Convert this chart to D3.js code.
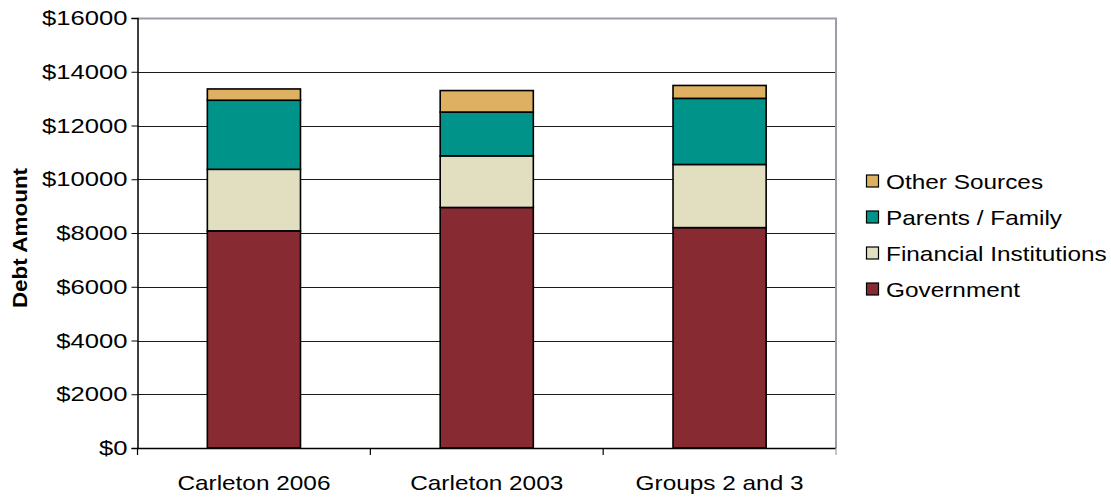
<!DOCTYPE html>
<html>
<head>
<meta charset="utf-8">
<script src="https://cdn.jsdelivr.net/npm/d3@7/dist/d3.min.js"></script>
<style>
  body { margin: 0; background: #fff; }
  text { font-family: "Liberation Sans", Arial, sans-serif; fill: #000; }
</style>
</head>
<body>
<div id="chart"></div>
<script>
// Chart data
const categories = ["Carleton 2006", "Carleton 2003", "Groups 2 and 3"];
const seriesNames = ["Government", "Financial Institutions", "Parents / Family", "Other Sources"];
const government = [8080, 8950, 8200];
const financial = [2290, 1920, 2350];
const parents = [2570, 1630, 2460];
const other = [420, 800, 480];
const yTicks = [0, 2000, 4000, 6000, 8000, 10000, 12000, 14000, 16000];
const colors = ["#882a32", "#e2dec0", "#00938a", "#ddb062"];

const width = 1111, height = 497;
const margin = {top: 18, right: 275, bottom: 49, left: 137.5};
const plotW = width - margin.left - margin.right;
const plotH = height - margin.top - margin.bottom;
const stretch = 1.16; // text in the reference is drawn a bit wider than Arial

const svg = d3.select("#chart").append("svg")
    .attr("width", width)
    .attr("height", height);

const g = svg.append("g")
    .attr("transform", `translate(${margin.left},${margin.top})`);

// Scales
const x = d3.scaleBand()
    .domain(categories)
    .range([0, plotW])
    .paddingInner(0.6)
    .paddingOuter(0.3);

const y = d3.scaleLinear()
    .domain([0, 16000])
    .range([plotH, 0]);

// Build rows for stacking
const rows = categories.map((c, i) => ({
    category: c,
    "Government": government[i],
    "Financial Institutions": financial[i],
    "Parents / Family": parents[i],
    "Other Sources": other[i]
}));
const stacked = d3.stack().keys(seriesNames)(rows);

// Grid lines
g.append("g")
    .selectAll("line")
    .data(yTicks.filter(d => d > 0 && d < 16000))
    .enter()
    .append("line")
    .attr("x1", 0)
    .attr("x2", plotW)
    .attr("y1", d => Math.round(y(d)) + 0.5)
    .attr("y2", d => Math.round(y(d)) + 0.5)
    .attr("stroke", "#1a1a1a")
    .attr("stroke-width", 1.1);

// Plot border (top and right in grey)
g.append("path")
    .attr("d", `M0,${y(16000) + 0.5}H${plotW}V${plotH}`)
    .attr("fill", "none")
    .attr("stroke", "#9a9ea6")
    .attr("stroke-width", 2);

// Bars
g.append("g")
    .selectAll("g")
    .data(stacked)
    .enter()
    .append("g")
    .attr("fill", (d, i) => colors[i])
    .selectAll("rect")
    .data(d => d)
    .enter()
    .append("rect")
    .attr("x", d => x(d.data.category))
    .attr("y", d => y(d[1]))
    .attr("width", x.bandwidth())
    .attr("height", d => y(d[0]) - y(d[1]))
    .attr("stroke", "#000")
    .attr("stroke-width", 1.6);

// Y axis
const yAxis = d3.axisLeft(y)
    .tickValues(yTicks)
    .tickSize(6)
    .tickPadding(4)
    .tickFormat(d => "$" + d);

const yG = g.append("g").call(yAxis);
yG.select(".domain").attr("stroke", "#000").attr("stroke-width", 1.5);
yG.selectAll(".tick line").attr("stroke", "#000");
yG.selectAll("text")
    .attr("class", "ytick")
    .attr("font-size", "21px")
    .attr("font-family", "Liberation Sans, Arial, sans-serif");

// X axis with ticks at category boundaries
const xG = g.append("g")
    .attr("transform", `translate(0,${plotH})`);
xG.append("line")
    .attr("x1", 0).attr("x2", plotW)
    .attr("y1", 0.5).attr("y2", 0.5)
    .attr("stroke", "#000")
    .attr("stroke-width", 1.5);
const step = x.step();
const start = x(categories[0]) - x.paddingOuter() * step;
xG.selectAll(".bound")
    .data(d3.range(categories.length + 1))
    .enter()
    .append("line")
    .attr("x1", i => i === categories.length ? plotW : start + i * step)
    .attr("x2", i => i === categories.length ? plotW : start + i * step)
    .attr("y1", 0)
    .attr("y2", 7)
    .attr("stroke", i => i === categories.length ? "#9a9ea6" : "#000")
    .attr("stroke-width", 1.2);
xG.selectAll(".xlabel")
    .data(categories)
    .enter()
    .append("text")
    .attr("class", "xlabel")
    .attr("x", d => x(d) + x.bandwidth() / 2)
    .attr("y", 42)
    .attr("text-anchor", "middle")
    .attr("font-size", "21px")
    .text(d => d);

// Y axis title
svg.append("text")
    .attr("class", "ytitle")
    .attr("transform", "translate(27,238) rotate(-90)")
    .attr("text-anchor", "middle")
    .attr("font-size", "21px")
    .attr("font-weight", "bold")
    .text("Debt Amount");

// Legend (top entry is the top of the stack)
const legendOrder = seriesNames.map((s, i) => ({name: s, color: colors[i]})).reverse();
const legend = svg.append("g")
    .attr("transform", "translate(866,181)");
const item = legend.selectAll("g")
    .data(legendOrder)
    .enter()
    .append("g")
    .attr("transform", (d, i) => `translate(0,${i * 36})`);
item.append("rect")
    .attr("x", 0.5)
    .attr("y", -6)
    .attr("width", 12)
    .attr("height", 12)
    .attr("fill", d => d.color)
    .attr("stroke", "#000")
    .attr("stroke-width", 1.2);
item.append("text")
    .attr("x", 20)
    .attr("y", 7.5)
    .attr("font-size", "21px")
    .text(d => d.name);

// Widen text to match the reference look
svg.selectAll("text").each(function() {
    const len = this.getComputedTextLength();
    const cls = this.getAttribute("class");
    const f = cls === "ytitle" ? 1.07 : cls === "ytick" ? 1.22 : stretch;
    d3.select(this)
        .attr("textLength", len * f)
        .attr("lengthAdjust", "spacingAndGlyphs");
});
</script>
</body>
</html>
